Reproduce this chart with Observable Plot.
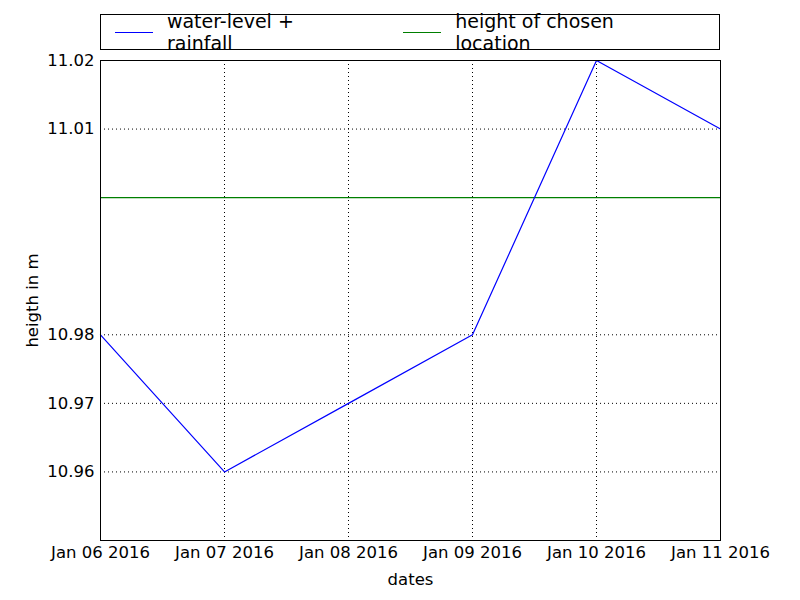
<!DOCTYPE html>
<html>
<head>
<meta charset="utf-8">
<script src="https://cdn.jsdelivr.net/npm/d3@7"></script>
<script src="https://cdn.jsdelivr.net/npm/@observablehq/plot@0.6"></script>
<style>
body { margin: 0; background: #fff; font-family: "DejaVu Sans", sans-serif; }
#wrap { position: relative; width: 800px; height: 600px; }
#legend { position: absolute; left: 100px; top: 14px; width: 618px; height: 34px; border: 1px solid #000;
  display: flex; align-items: center; font-size: 19px; background: #fff; }
.item { display: flex; align-items: center; margin-left: 14px; margin-right: 24px; }
.sw { width: 38px; height: 0; border-top: 1.2px solid; margin-right: 14px; }
</style>
</head>
<body>
<div id="wrap">
<div id="chart"></div>
<div id="legend">
  <div class="item"><div class="sw" style="border-color:#0000ff"></div>water-level + rainfall</div>
  <div class="item"><div class="sw" style="border-color:#007f00"></div>height of chosen location</div>
</div>
</div>
<script>
const dates = ["2016-01-06", "2016-01-07", "2016-01-08", "2016-01-09", "2016-01-10", "2016-01-11"];
const levels = [10.98, 10.96, 10.97, 10.98, 11.02, 11.01];
const locationHeight = 11.0;
const yTicks = [10.96, 10.97, 10.98, 11.01, 11.02];

const series = dates.map((d, i) => ({date: new Date(d + "T00:00:00"), value: levels[i]}));
const xTicks = series.map(d => d.date);
const fmt = d3.timeFormat("%b %d %Y");

const chart = Plot.plot({
  width: 800,
  height: 600,
  marginLeft: 100,
  marginRight: 80,
  marginTop: 60,
  marginBottom: 60,
  style: {fontFamily: "DejaVu Sans, sans-serif", fontSize: "16.5px", color: "#000"},
  x: {type: "time", domain: [xTicks[0], xTicks[xTicks.length - 1]], ticks: xTicks, tickFormat: fmt,
      label: "dates", labelAnchor: "center", labelArrow: "none", labelOffset: 44, tickSize: 0, tickPadding: 6},
  y: {domain: [10.95, 11.02], ticks: yTicks, tickFormat: d3.format(".2f"),
      label: "heigth in m", labelAnchor: "center", labelArrow: "none", labelOffset: 74, tickSize: 0, tickPadding: 6},
  marks: [
    Plot.gridX(xTicks, {stroke: "#000", strokeOpacity: 1, strokeDasharray: "1,3"}),
    Plot.gridY(yTicks, {stroke: "#000", strokeOpacity: 1, strokeDasharray: "1,3"}),
    Plot.ruleY([locationHeight], {stroke: "#007f00", strokeWidth: 1.2}),
    Plot.line(series, {x: "date", y: "value", stroke: "#0000ff", strokeWidth: 1.2}),
    Plot.frame({stroke: "#000"})
  ]
});
document.getElementById("chart").appendChild(chart);
</script>
</body>
</html>
